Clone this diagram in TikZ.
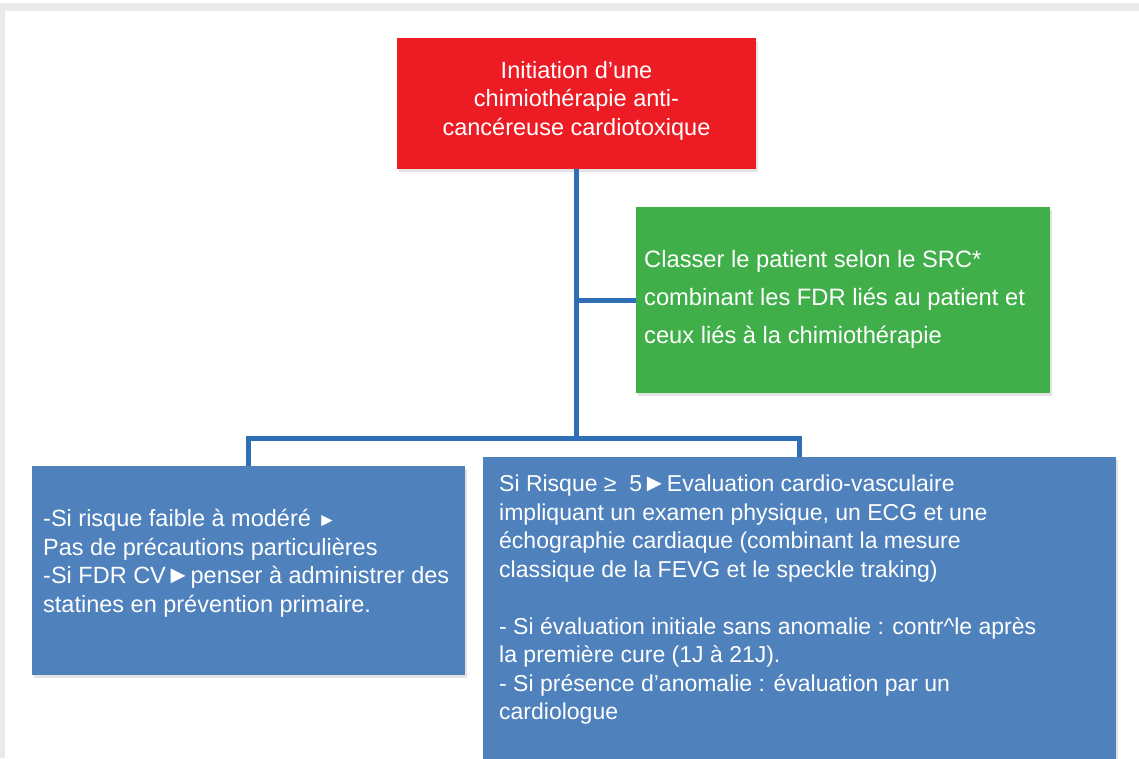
\documentclass[tikz,border=0pt]{standalone}
\usepackage{fontspec}
\setmainfont{Liberation Sans}
\usetikzlibrary{positioning,calc,shadows}

\definecolor{rouge}{HTML}{ED1C24}
\definecolor{vert}{HTML}{40AE49}
\definecolor{bleu}{HTML}{4F81BD}
\definecolor{trait}{HTML}{2E6FB5}
\definecolor{cadre}{HTML}{EAEAEC}

\newcommand{\fleche}{{\fontsize{25}{25}\selectfont ►}}

\begin{document}
\begin{tikzpicture}[x=1pt, y=-1pt,
    % global styles
    box/.style={rectangle, inner sep=0pt, outer sep=0pt,
        drop shadow={opacity=0.22, shadow xshift=1.5pt, shadow yshift=-3pt}}, % coloured boxes
    box text/.style={text=white, inner sep=0pt, font=\fontsize{23.5}{28.6}\selectfont}, % white text
    link/.style={draw=trait, line width=5pt} % blue connectors
]

    % --- 0. frame of the page ---
    \useasboundingbox (0,0) rectangle (1139,758);
    \fill[cadre] (0,3) rectangle (1139,758);
    \fill[white] (5,11) rectangle (1139,758);

    % --- 1. red box (start) ---
    \node[box, fill=rouge, minimum width=359pt, minimum height=131pt] (init) at (576.5,103.5) {};
    \node[box text, align=center, anchor=north] (init txt) at ($(init.north) + (0,23)$)
        {Initiation d’une\\chimiothérapie anti-\\cancéreuse cardiotoxique};

    % --- 2. green box (classification) ---
    \node[box, fill=vert, minimum width=414pt, minimum height=186pt] (classer) at (843,300) {};
    \node[box text, align=left, anchor=north west, font=\fontsize{23.7}{38}\selectfont] (classer txt)
        at ($(classer.north west) + (8,43)$)
        {Classer le patient selon le SRC*\\combinant les FDR liés au patient et\\ceux liés à la chimiothérapie};

    % --- 3. left blue box (low risk) ---
    \node[box, fill=bleu, minimum width=433pt, minimum height=209pt] (faible) at (248.5,570.5) {};
    \node[box text, align=left, anchor=north west] (faible txt) at ($(faible.north west) + (11,43)$)
        {-Si risque faible à modéré {\fontsize{19}{19}\selectfont ►}\\Pas de précautions particulières\\-Si FDR CV\fleche penser à administrer des\\statines en prévention primaire.};

    % --- 4. right blue box (high risk) ---
    \node[box, fill=bleu, minimum width=633pt, minimum height=305pt] (eleve) at (799.5,609.5) {};
    \node[box text, align=left, anchor=north west, font=\fontsize{23}{28.5}\selectfont] (eleve txt)
        at ($(eleve.north west) + (16,18)$)
        {Si Risque ≥ \ 5\fleche Evaluation cardio-vasculaire\\impliquant un examen physique, un ECG et une\\échographie cardiaque (combinant la mesure\\classique de la FEVG et le speckle traking)\\[28.5pt]- Si évaluation initiale sans anomalie : contr\textasciicircum le après\\la première cure (1J à 21J).\\- Si présence d’anomalie : évaluation par un\\cardiologue};

    % --- 5. connectors ---
    \coordinate (fork) at ($(init.south) + (0,269)$);
    \draw[link] (init.south) -- (fork);
    \draw[link] (init.south |- classer.west) -- (classer.west);
    \draw[link] (faible.north) |- (fork) -| (eleve.north);

\end{tikzpicture}
\end{document}
